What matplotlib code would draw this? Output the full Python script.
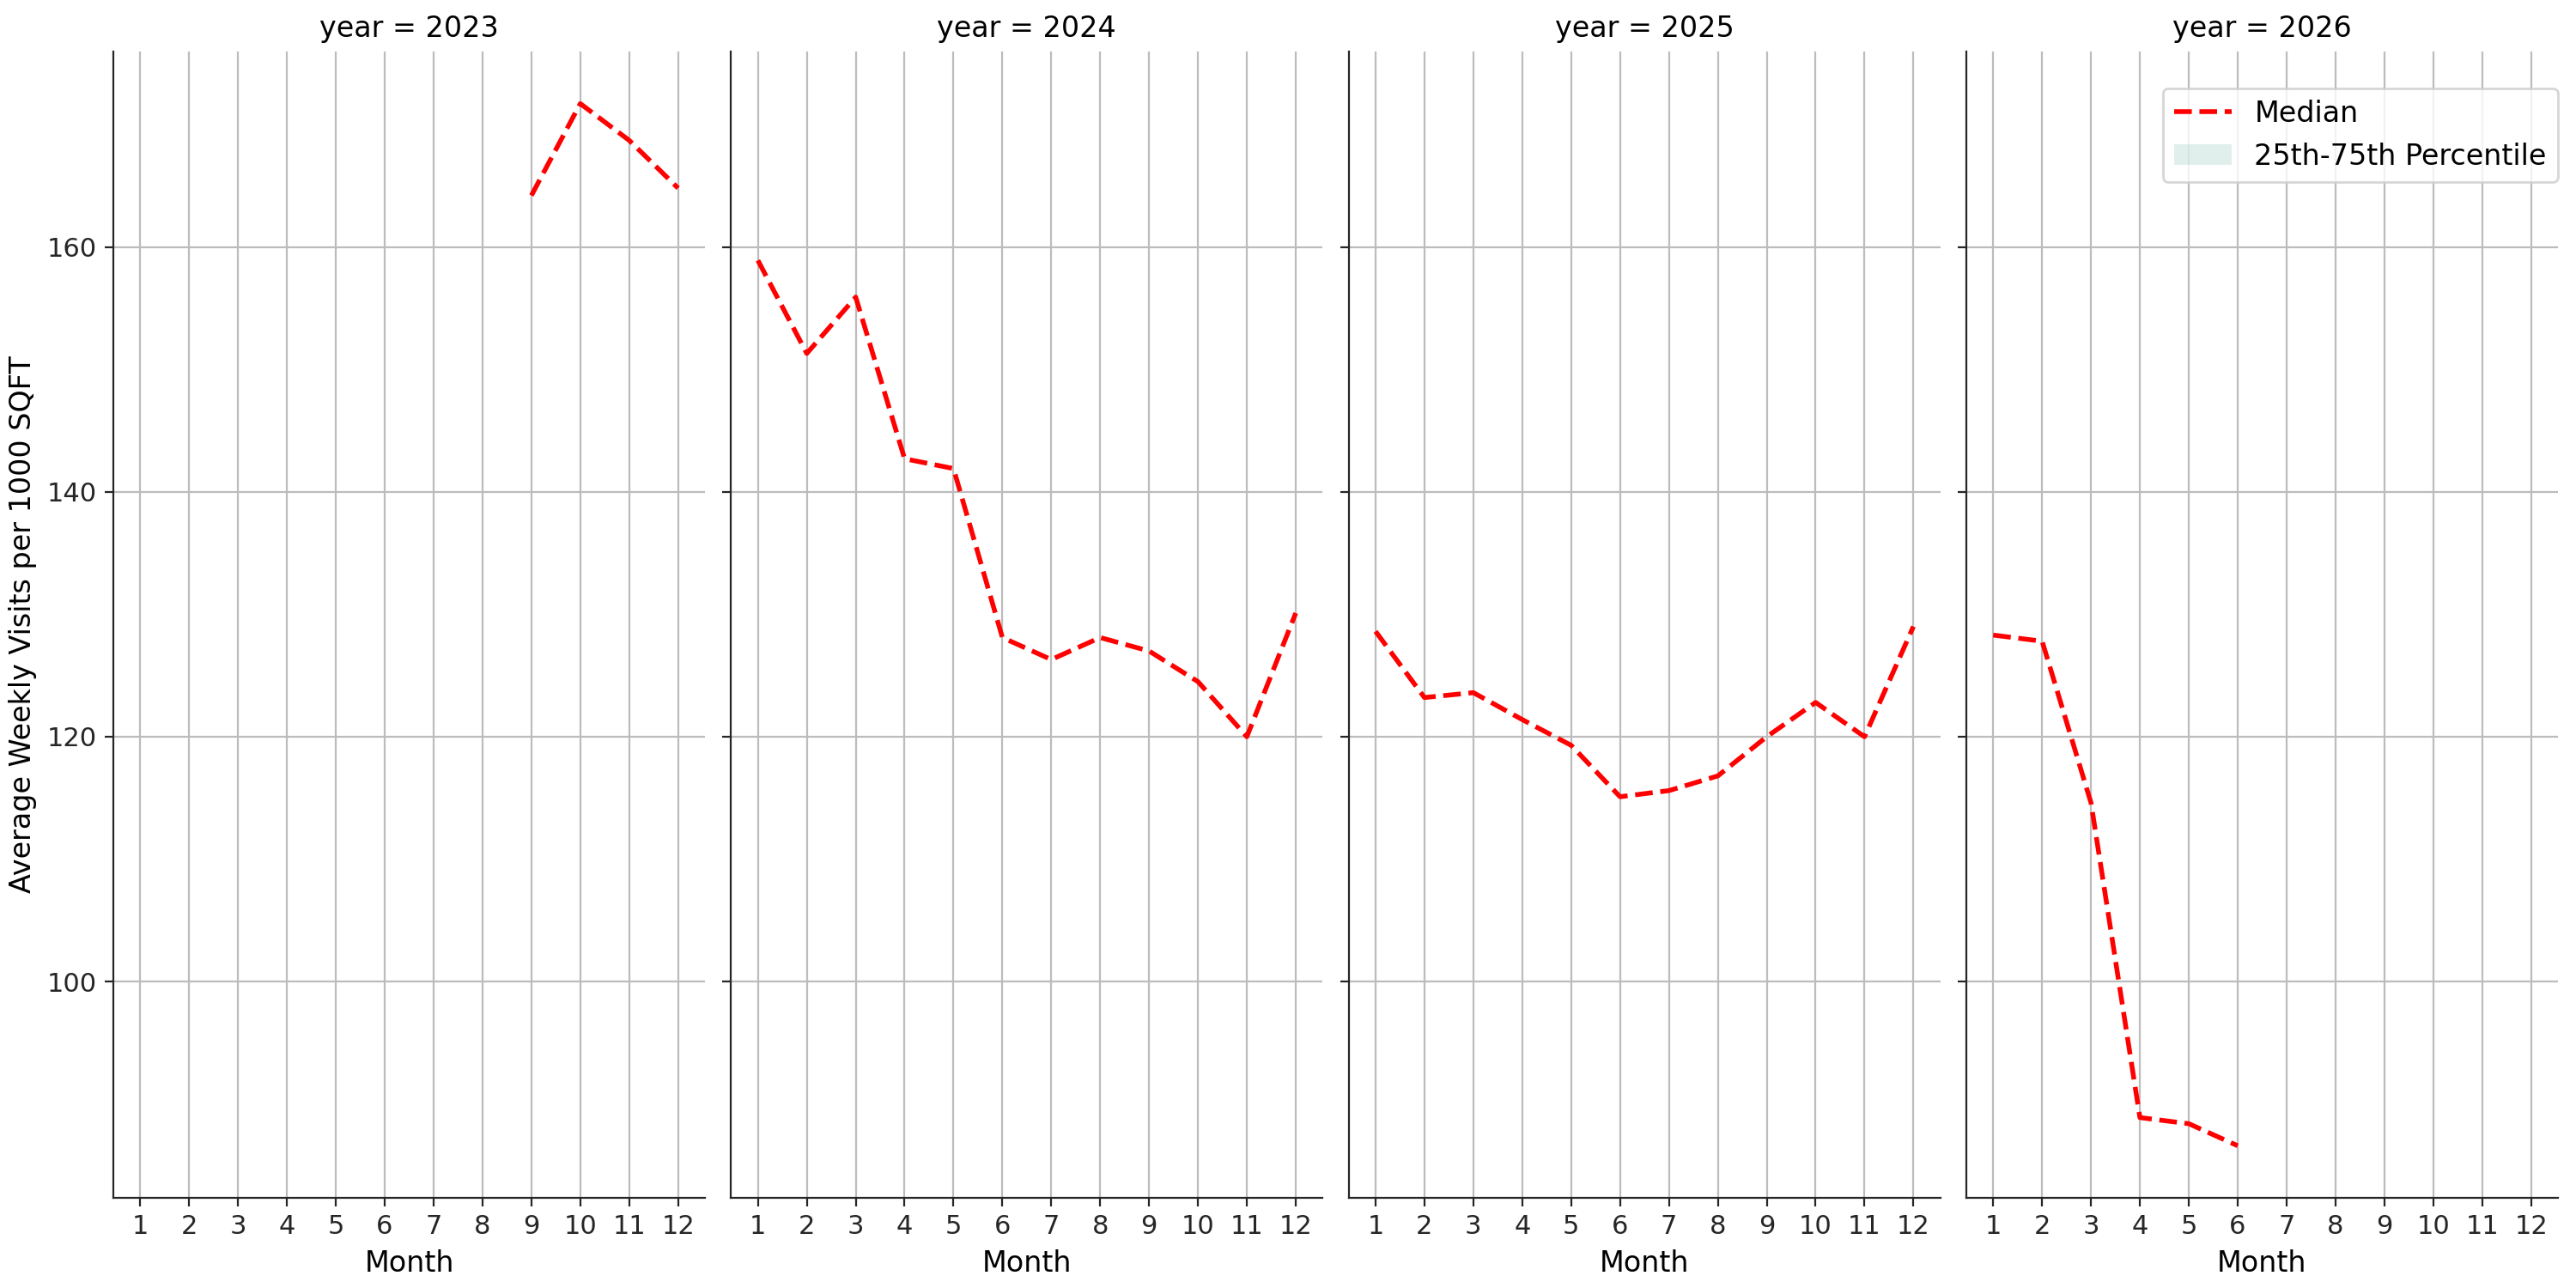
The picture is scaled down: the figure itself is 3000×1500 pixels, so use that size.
import numpy as np
import matplotlib
matplotlib.use("Agg")
import matplotlib.pyplot as plt
from matplotlib.patches import Patch

# monthly medians
years = [2023, 2024, 2025, 2026]
months = {
    2023: [9, 10, 11, 12],
    2024: [1, 2, 3, 4, 5, 6, 7, 8, 9, 10, 11, 12],
    2025: [1, 2, 3, 4, 5, 6, 7, 8, 9, 10, 11, 12],
    2026: [1, 2, 3, 4, 5, 6],
}
median_visits = {
    2023: [164.2, 171.7, 168.7, 164.8],
    2024: [158.9, 151.3, 155.9, 142.7, 141.9, 128.1, 126.3, 128.1, 127.0, 124.5, 120.0, 130.1],
    2025: [128.6, 123.2, 123.6, 121.4, 119.3, 115.1, 115.6, 116.8, 120.0, 122.8, 120.0, 129.0],
    2026: [128.3, 127.8, 114.6, 88.9, 88.4, 86.6],
}
month_ticks = list(range(1, 13))

plt.rcParams.update({
    "font.family": "DejaVu Sans",
    "xtick.labelsize": 11,
    "ytick.labelsize": 11,
    "axes.labelsize": 12,
    "axes.titlesize": 12,
    "legend.fontsize": 12,
    "axes.edgecolor": "#262626",
    "xtick.color": "#262626",
    "ytick.color": "#262626",
})

fig, axes = plt.subplots(1, 4, figsize=(15, 7.5), dpi=200, sharey=True)
fig.subplots_adjust(left=0.044, right=0.993, bottom=0.070, top=0.960, wspace=0.044)

band_color = "#69b3a2"

for ax, yr in zip(axes, years):
    ax.plot(months[yr], median_visits[yr], color="red", linestyle="--", linewidth=2, label="Median")
    ax.set_xticks(month_ticks)
    ax.set_xlim(0.45, 12.55)
    ax.grid(True, color="#bcbcbc", linewidth=0.8)
    ax.set_axisbelow(True)
    ax.set_title("year = %d" % yr)
    ax.set_xlabel("Month")
    for side in ["top", "right"]:
        ax.spines[side].set_visible(False)

axes[0].set_ylabel("Average Weekly Visits per 1000 SQFT")
axes[0].set_yticks([100, 120, 140, 160])

handles = [
    plt.Line2D([], [], color="red", linestyle="--", linewidth=2),
    Patch(facecolor=band_color, alpha=0.2, edgecolor="none"),
]
axes[-1].legend(handles, ["Median", "25th-75th Percentile"], loc="upper right",
                bbox_to_anchor=(1.0, 0.968), borderaxespad=0)

fig.savefig("out.png", dpi=200)
